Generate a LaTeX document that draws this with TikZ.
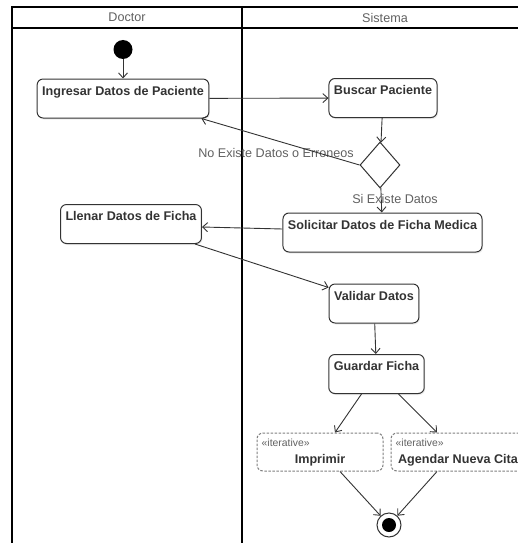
\documentclass[tikz,border=0pt]{standalone}
\usepackage{fontspec}
\setmainfont{Liberation Sans}
\usetikzlibrary{arrows.meta,shapes.geometric,shadows}

\definecolor{ink}{HTML}{333333}
\definecolor{labelgray}{HTML}{616161}

\tikzset{
  lane/.style={draw=black, line width=1.5pt},
  lanetitle/.style={font=\fontsize{12.6}{15}\selectfont, text=labelgray},
  act/.style={draw=ink, line width=1pt, rounded corners=6pt, fill=white,
    drop shadow={opacity=0.15, shadow xshift=1pt, shadow yshift=-1.5pt},
    font=\fontsize{12.6}{15}\selectfont\bfseries, text=ink,
    inner xsep=5pt, inner ysep=4pt, text height=12pt, text depth=19pt},
  iter/.style={draw=gray, dash pattern=on 2.5pt off 1.5pt, line width=1pt,
    rounded corners=6pt, fill=white,
    font=\fontsize{12.6}{15}\selectfont\bfseries, text=ink,
    minimum height=38pt, inner ysep=3pt, text height=27pt, text depth=5pt,
    label={[anchor=north west, inner xsep=5pt, inner ysep=6pt,
      font=\fontsize{10.4}{12}\selectfont,
      text=labelgray]north west:«iterative»}},
  decision/.style={diamond, draw=ink, line width=1pt, fill=white,
    minimum width=40pt, minimum height=46pt, inner sep=0pt},
  initial/.style={circle, fill=black, minimum size=19pt, inner sep=0pt},
  final/.style={circle, draw=ink, line width=1pt, fill=white,
    minimum size=24pt, inner sep=0pt},
  flow/.style={draw=ink, line width=0.9pt, -{Straight Barb[length=5pt,width=9pt]}},
  lbl/.style={font=\fontsize{12.6}{15}\selectfont, text=labelgray},
}

\begin{document}
\begin{tikzpicture}[x=1pt, y=-1pt]
  \useasboundingbox (0,0) rectangle (518,543);
  \clip (0,0) rectangle (518,543);
  \fill[white] (0,0) rectangle (518,543);

  % swimlanes
  \draw[lane] (12,7) rectangle (528,570);
  \draw[lane] (12,28) -- (528,28);
  \draw[lane] (242,7) -- (242,570);
  \node[lanetitle] (doctor) at (127,17.5) {Doctor};
  \node[lanetitle] (sistema) at (385,17.5) {Sistema};

  % activities
  \node[initial] (start) at (123,49.5) {};
  \node[act] (ingresar) at (123,98.5) {Ingresar Datos de Paciente};
  \node[act] (buscar) at (383,98) {Buscar Paciente};
  \node[decision] (dec) at (380,165) {};
  \node[act] (solicitar) at (382.5,232.5) {Solicitar Datos de Ficha Medica};
  \node[act] (llenar) at (131,224) {Llenar Datos de Ficha};
  \node[act] (validar) at (374,303.5) {Validar Datos};
  \node[act] (guardar) at (376.5,374) {Guardar Ficha};
  \node[iter, minimum width=126pt] (imprimir) at (320,452) {Imprimir};
  \node[iter, minimum width=134pt] (agendar) at (458,452) {Agendar Nueva Cita};
  \node[final] (end) at (389,525) {};
  \fill[black] (end.center) circle (7pt);

  % guards
  \node[lbl] (noexiste) at (276,153) {No Existe Datos o Erroneos};
  \node[lbl] (siexiste) at (395,199) {Si Existe Datos};

  % control flow
  \draw[flow] (start) -- (ingresar);
  \draw[flow] (ingresar) -- (buscar);
  \draw[flow] (buscar) -- (dec);
  \draw[flow] (dec.west) -- ([xshift=-8pt]ingresar.south east);
  \draw[flow] (dec) -- (solicitar);
  \draw[flow] ([yshift=3.5pt]solicitar.west) -- ([yshift=-3pt]llenar.east);
  \draw[flow] ([xshift=-7pt]llenar.south east) -- ([yshift=-4pt]validar.north west);
  \draw[flow] (validar) -- (guardar);
  \draw[flow] ([xshift=-15pt]guardar.south) -- ([xshift=15pt]imprimir.north);
  \draw[flow] ([xshift=22pt]guardar.south) -- ([xshift=-21pt]agendar.north);
  \draw[flow] ([xshift=20pt]imprimir.south) -- (end);
  \draw[flow] ([xshift=-21pt]agendar.south) -- (end);
\end{tikzpicture}
\end{document}
